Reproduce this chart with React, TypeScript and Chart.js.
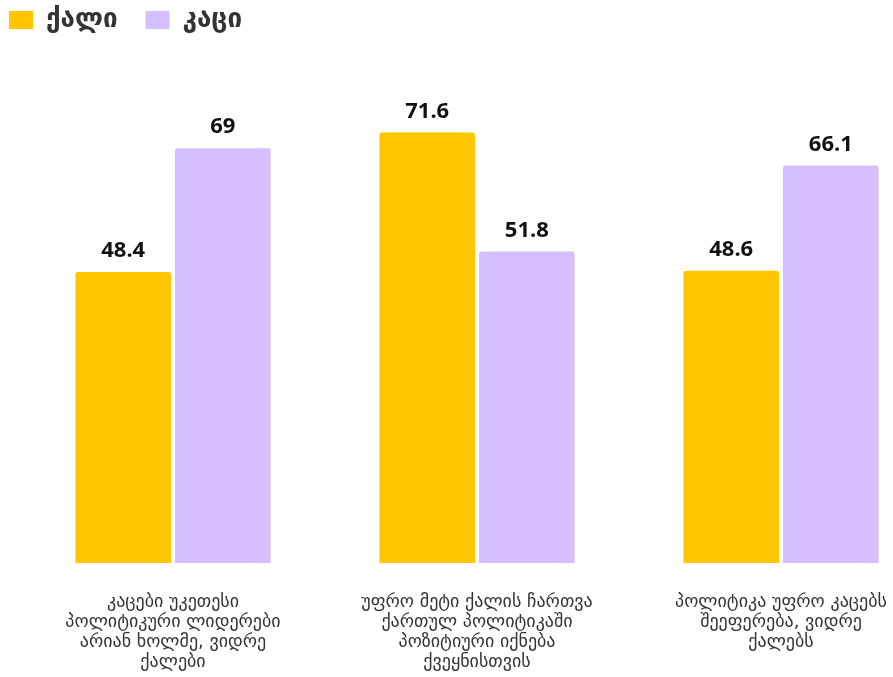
import React, { useEffect, useRef } from "react";
import { Chart, registerables } from "chart.js";
Chart.register(...registerables);

const categories: string[][] = [
  ["კაცები უკეთესი", "პოლიტიკური ლიდერები", "არიან ხოლმე, ვიდრე", "ქალები"],
  ["უფრო მეტი ქალის ჩართვა", "ქართულ პოლიტიკაში", "პოზიტიური იქნება", "ქვეყნისთვის"],
  ["პოლიტიკა უფრო კაცებს", "შეეფერება, ვიდრე", "ქალებს"],
];
const seriesNames = ["ქალი", "კაცი"];
const womenValues = [48.4, 71.6, 48.6];
const menValues = [69, 51.8, 66.1];

const GOLD = "#FFC600";
const PURPLE = "#D5BEFF";

const valueLabels = {
  id: "valueLabels",
  afterDatasetsDraw(chart: any) {
    const ctx = chart.ctx;
    ctx.save();
    ctx.font = "bold 22px 'Noto Sans'";
    ctx.fillStyle = "#111";
    ctx.textAlign = "center";
    ctx.textBaseline = "alphabetic";
    chart.data.datasets.forEach((ds: any, i: number) => {
      chart.getDatasetMeta(i).data.forEach((bar: any, j: number) => {
        ctx.fillText(String(ds.data[j]), bar.x, bar.y - 15);
      });
    });
    ctx.restore();
  },
};

const legendShift = {
  id: "legendShift",
  afterLayout(chart: any) {
    const lg = chart.legend;
    if (!lg) return;
    const h = lg.height;
    lg.left = -19;
    lg.right = chart.width;
    lg.top = -21;
    lg.bottom = lg.top + h;
  },
};

export default function App() {
  const ref = useRef<HTMLCanvasElement | null>(null);
  useEffect(() => {
    if (!ref.current) return;
    const chart = new Chart(ref.current, {
      type: "bar",
      data: {
        labels: categories as any,
        datasets: [
          { label: seriesNames[0], data: womenValues, backgroundColor: GOLD, borderRadius: 3, clip: false as any },
          { label: seriesNames[1], data: menValues, backgroundColor: PURPLE, borderRadius: 3, clip: false as any },
        ],
      },
      options: {
        animation: false,
        responsive: true,
        maintainAspectRatio: false,
        layout: { padding: { left: 173, right: 112, top: 18, bottom: 0 } },
        datasets: { bar: { categoryPercentage: 0.655, barPercentage: 0.96 } },
        plugins: {
          legend: {
            position: "top",
            align: "start",
            labels: {
              boxWidth: 24,
              boxHeight: 18,
              padding: 28,
              color: "#333",
              font: { family: "'DejaVu Sans'", size: 26, weight: "bold" },
            },
          },
          tooltip: { enabled: false },
        },
        scales: {
          x: {
            offset: false,
            grid: { display: false },
            border: { display: false },
            afterFit(scale: any) {
              scale.paddingLeft = 0;
              scale.paddingRight = 0;
              scale.height = 114;
            },
            ticks: {
              color: "#333",
              font: { family: "'DejaVu Sans'", size: 18, lineHeight: 1.12 },
              padding: 21,
              maxRotation: 0,
              autoSkip: false,
            },
          },
          y: { display: false, min: 0, max: 80 },
        },
      },
      plugins: [valueLabels, legendShift],
    });
    return () => chart.destroy();
  }, []);
  return (
    <div style={{ position: "fixed", left: 0, top: 0, width: 893, height: 677, background: "#fff" }}>
      <canvas ref={ref} />
    </div>
  );
}
